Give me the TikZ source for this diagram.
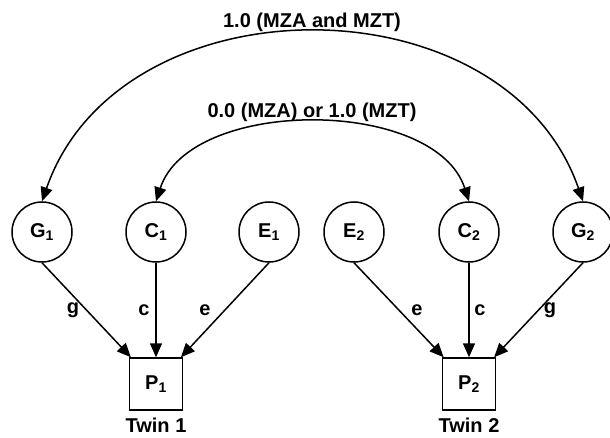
\documentclass[tikz,border=0pt]{standalone}
\usepackage{fontspec}
\setmainfont{Liberation Sans}
\usetikzlibrary{arrows.meta}
\begin{document}
\begin{tikzpicture}[x=1pt,y=-1pt,
  latent/.style={circle,draw,line width=1.5pt,minimum size=60pt,inner sep=0pt,font=\fontsize{20}{24}\selectfont\bfseries},
  observed/.style={rectangle,draw,line width=1.5pt,minimum width=53pt,minimum height=52pt,inner sep=0pt,font=\fontsize{20}{24}\selectfont\bfseries},
  lbl/.style={font=\fontsize{20}{24}\selectfont\bfseries,inner sep=0pt},
  path/.style={line width=1.5pt,-{Triangle[length=14pt,width=12pt]}},
  cov/.style={line width=1.5pt,{Triangle[length=14pt,width=12pt]}-{Triangle[length=14pt,width=12pt]}}]
\useasboundingbox (0,0) rectangle (610,438);
\node[latent] (G1) at (42,232) {G\textsubscript{1}};
\node[latent] (C1) at (156,232) {C\textsubscript{1}};
\node[latent] (E1) at (269,232) {E\textsubscript{1}};
\node[latent] (E2) at (354,232) {E\textsubscript{2}};
\node[latent] (C2) at (469,232) {C\textsubscript{2}};
\node[latent] (G2) at (583,232) {G\textsubscript{2}};
\node[observed] (P1) at (156,384) {P\textsubscript{1}};
\node[observed] (P2) at (469,384) {P\textsubscript{2}};
\node[lbl] (T1) at (156,425) {Twin 1};
\node[lbl] (T2) at (469,425) {Twin 2};
\draw[path] (G1.south) -- (P1);
\draw[path] (C1) -- (P1);
\draw[path] (E1.south) -- (P1);
\draw[path] (E2.south) -- (P2);
\draw[path] (C2) -- (P2);
\draw[path] (G2.south) -- (P2);
\node[lbl] (lg1) at (73,310) {g};
\node[lbl] (lc1) at (144,310) {c};
\node[lbl] (le1) at (205,310) {e};
\node[lbl] (le2) at (417,310) {e};
\node[lbl] (lc2) at (480,310) {c};
\node[lbl] (lg2) at (550,310) {g};
\draw[cov] (G1.north) .. controls (120,-23) and (505,-23) .. (G2.north);
\draw[cov] (C1.north) .. controls (190,97) and (435,97) .. (C2.north);
\node[lbl] (top1) at (312,22) {1.0 (MZA and MZT)};
\node[lbl] (top2) at (312,112) {0.0 (MZA) or 1.0 (MZT)};
\end{tikzpicture}
\end{document}
